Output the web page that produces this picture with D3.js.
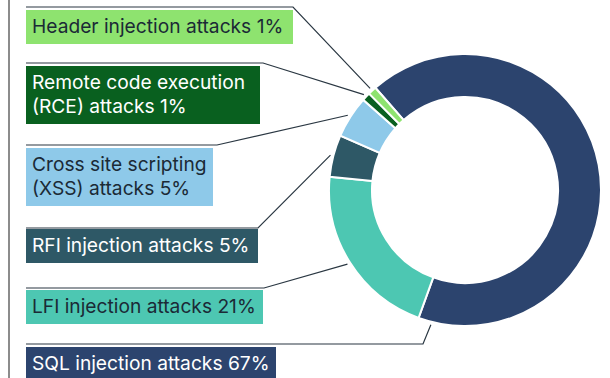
<!DOCTYPE html>
<html>
<head>
<meta charset="utf-8">
<script src="https://cdn.jsdelivr.net/npm/d3@7"></script>
<style>
  body { margin: 0; background: #fff; }
  svg { display: block; font-family: Inter, "Noto Sans", sans-serif; }
</style>
</head>
<body>
<div id="chart"></div>
<script>
"use strict";

// Chart data (legend order, top to bottom).
const categories = ["Header injection attacks", "Remote code execution (RCE) attacks",
                    "Cross site scripting (XSS) attacks", "RFI injection attacks",
                    "LFI injection attacks", "SQL injection attacks"];
const labelLines = [["Header injection attacks 1%"],
                    ["Remote code execution", "(RCE) attacks 1%"],
                    ["Cross site scripting", "(XSS) attacks 5%"],
                    ["RFI injection attacks 5%"],
                    ["LFI injection attacks 21%"],
                    ["SQL injection attacks 67%"]];
const shares = [1, 1, 5, 5, 21, 67];
const colors = ["#8ee36f", "#09601f", "#8ec9e9", "#2e5866", "#4dc7b2", "#2c446e"];
const textColors = ["#1b2a36", "#ffffff", "#1b2a36", "#ffffff", "#1b2a36", "#ffffff"];

const width = 610, height = 378;
const cx = 465, cy = 190, rOuter = 136, rInner = 93;

const svg = d3.select("#chart").append("svg")
    .attr("width", width)
    .attr("height", height);

// Left border line.
svg.append("line")
    .attr("x1", 9).attr("x2", 9)
    .attr("y1", 0).attr("y2", height)
    .style("stroke", "#8c8c8c")
    .style("stroke-width", "2px");

// SQL starts just after the small slices; drawn clockwise in reverse legend order.
const order = d3.range(categories.length).reverse();
const startOffset = -0.72;
const pie = d3.pie()
    .value(i => shares[i])
    .sort(null)
    .startAngle(startOffset)
    .endAngle(startOffset + 2 * Math.PI);
const arcs = pie(order);

const arc = d3.arc().innerRadius(rInner).outerRadius(rOuter);

const g = svg.append("g").attr("transform", `translate(${cx},${cy})`);
g.selectAll(".slice")
    .data(arcs)
    .enter().append("path")
    .attr("class", "slice")
    .attr("d", arc)
    .style("fill", d => colors[d.data])
    .style("stroke", "#ffffff")
    .style("stroke-width", "2px");

// Label boxes.
const boxX = 26, textX = 32, lineH = 24;
const boxTop = [10, 66, 148, 229, 290, 347];
const boxW = [267, 234, 187, 232, 237, 250];
const ruleY = [7, 63, 145, 228, 288, 344];
const ruleEnd = [293, 263, 217, 258, 264, 423];

const labels = svg.selectAll(".label")
    .data(d3.range(categories.length))
    .enter().append("g")
    .attr("class", "label");

labels.append("rect")
    .attr("x", boxX)
    .attr("y", i => boxTop[i])
    .attr("width", i => boxW[i])
    .attr("height", i => labelLines[i].length * lineH + 10)
    .style("fill", i => colors[i]);

labels.each(function(i) {
    const t = d3.select(this).append("text")
        .style("font-size", "19.2px")
        .style("fill", textColors[i]);
    labelLines[i].forEach((s, k) => {
        t.append("tspan")
            .attr("x", textX)
            .attr("y", boxTop[i] + 23 + k * lineH)
            .text(s);
    });
});

// Leader lines: horizontal rule above each box, then a diagonal to the ring.
const arcByIndex = {};
arcs.forEach(a => { arcByIndex[a.data] = a; });
function anchorAngle(a) {
    let mid = (a.startAngle + a.endAngle) / 2;
    // slices whose middle lies on the right side point from their far end instead
    if (Math.sin(mid) > 0) mid = a.endAngle - 0.1;
    return mid;
}
svg.selectAll(".leader")
    .data(d3.range(categories.length))
    .enter().append("polyline")
    .attr("class", "leader")
    .attr("points", i => {
        const ang = anchorAngle(arcByIndex[i]);
        const r = rOuter + 3;
        const ex = cx + r * Math.sin(ang), ey = cy - r * Math.cos(ang);
        return `${boxX},${ruleY[i]} ${ruleEnd[i]},${ruleY[i]} ${ex},${ey}`;
    })
    .style("fill", "none")
    .style("stroke", "#2a3742")
    .style("stroke-width", "1.2px");
</script>
</body>
</html>
